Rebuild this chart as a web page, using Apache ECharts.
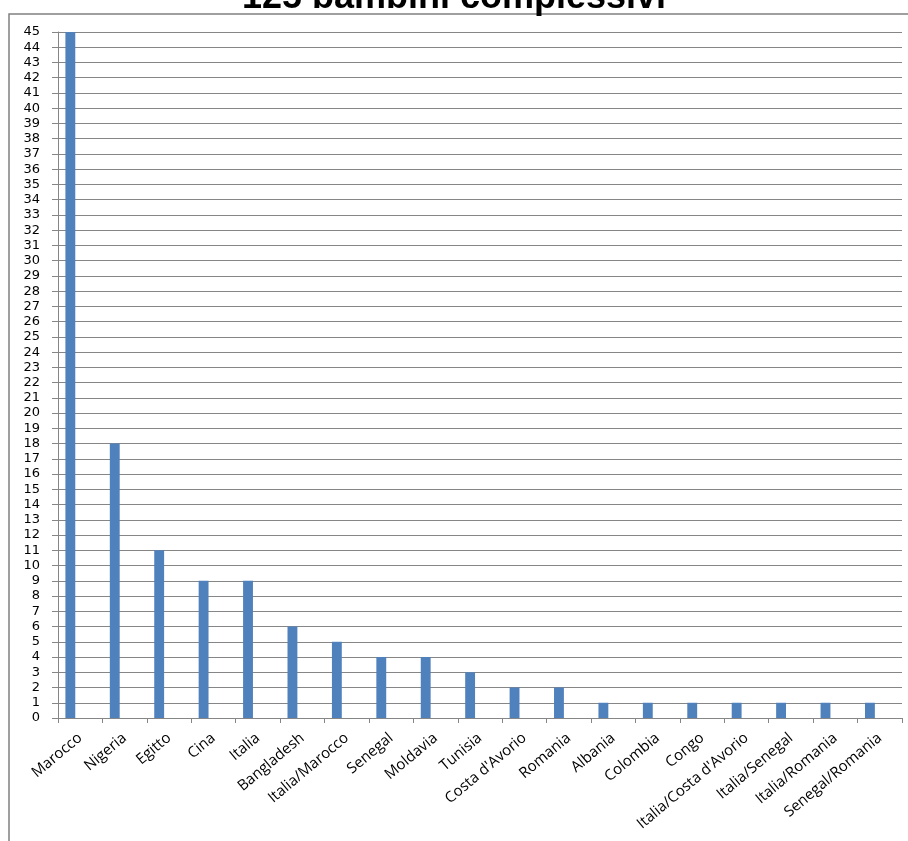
<!DOCTYPE html>
<html>
<head>
<meta charset="utf-8">
<script src="https://cdn.jsdelivr.net/npm/echarts@6/dist/echarts.min.js"></script>
<style>
html,body{margin:0;padding:0;background:#fff;}
#chart{width:908px;height:841px;}
</style>
</head>
<body>
<div id="chart"></div>
<script>
const titleText = "125 bambini complessivi";
const categories = ["Marocco","Nigeria","Egitto","Cina","Italia","Bangladesh","Italia/Marocco","Senegal","Moldavia","Tunisia","Costa d'Avorio","Romania","Albania","Colombia","Congo","Italia/Costa d'Avorio","Italia/Senegal","Italia/Romania","Senegal/Romania"];
const values = [45,18,11,9,9,6,5,4,4,3,2,2,1,1,1,1,1,1,1];
const series2Values = [];
const series3Values = [];

const chart = echarts.init(document.getElementById('chart'), null, {renderer:'canvas'});
const gridColor = '#868686';
chart.setOption({
  animation:false,
  backgroundColor:'#fff',
  title:{
    text:titleText,
    left:'center',
    top:-25,
    textStyle:{fontFamily:'Liberation Sans', fontWeight:'bold', fontSize:36, color:'#000', lineHeight:36}
  },
  graphic:[{
    type:'rect', silent:true, z:-1,
    shape:{x:9, y:14, width:1000, height:1000},
    style:{fill:null, stroke:'#808080', lineWidth:1.5}
  }],
  grid:{left:58, right:6, top:32, bottom:123, containLabel:false},
  xAxis:{
    type:'category',
    data:categories,
    boundaryGap:true,
    axisLine:{lineStyle:{color:gridColor, width:1}},
    axisTick:{show:true, length:5, alignWithLabel:false, interval:0, lineStyle:{color:gridColor}},
    axisLabel:{interval:0, rotate:40, margin:18, fontFamily:'Open Sans', fontSize:15, color:'#000'},
    splitLine:{show:false}
  },
  yAxis:{
    type:'value',
    min:0, max:45, interval:1,
    axisLine:{show:true, lineStyle:{color:gridColor, width:1}},
    axisTick:{show:true, length:6, lineStyle:{color:gridColor}},
    axisLabel:{margin:18, fontFamily:'DejaVu Sans', fontSize:13, color:'#000'},
    splitLine:{show:true, lineStyle:{color:gridColor, width:1}}
  },
  series:[
    {type:'bar', name:'Serie1', data:values, barGap:'0%', barCategoryGap:'33.3%', itemStyle:{color:'#4F81BD'}},
    {type:'bar', name:'Serie2', data:series2Values, itemStyle:{color:'#C0504D'}},
    {type:'bar', name:'Serie3', data:series3Values, itemStyle:{color:'#9BBB59'}}
  ]
});
</script>
</body>
</html>
